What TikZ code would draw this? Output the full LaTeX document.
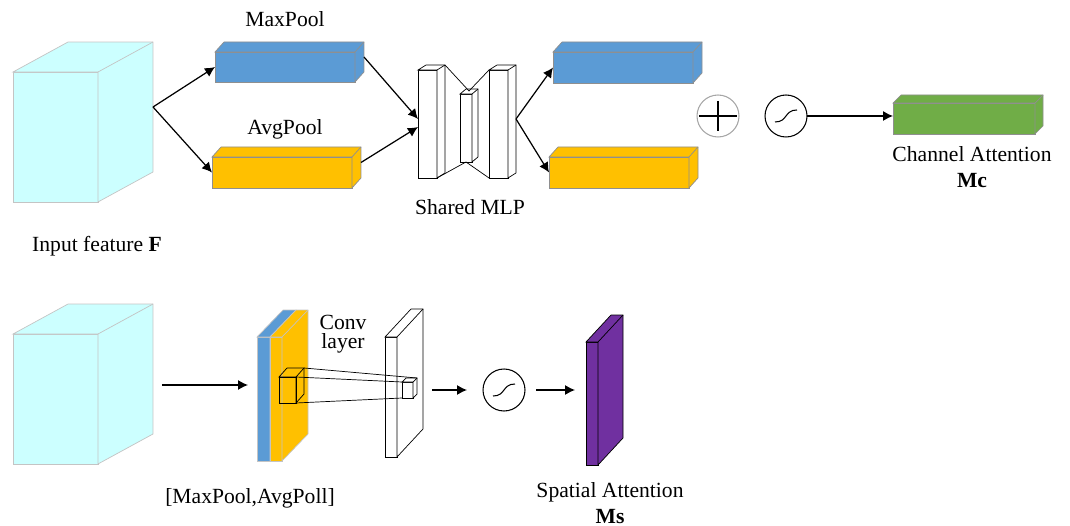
\documentclass[tikz,border=0pt]{standalone}
\usepackage{fontspec}
\setmainfont{Liberation Serif}
\usetikzlibrary{arrows.meta}
\definecolor{cubecyan}{HTML}{CCFFFF}
\definecolor{poolblue}{HTML}{5B9BD5}
\definecolor{poolgold}{HTML}{FFC000}
\definecolor{attgreen}{HTML}{70AD47}
\definecolor{attpurple}{HTML}{7030A0}
\definecolor{edgegray}{HTML}{8F8F8F}
\definecolor{lightedge}{HTML}{C4C4C4}
\tikzstyle{prism} = [rectangle,draw,inner sep=0pt,outer sep=0pt]
\tikzstyle{op} = [circle,draw,line width=0.6pt,minimum size=0.84cm,inner sep=0pt,outer sep=0pt]
\tikzstyle{flow} = [-{Latex[length=0.2cm,width=0.2cm]},line width=0.7pt]
\tikzstyle{lbl} = [inner sep=0pt,font=\fontsize{12.3}{14}\selectfont]
% top and side faces of a box whose front face is node #1
\newcommand{\boxsides}[5]{%
  \filldraw[fill=#4,draw=#5] (#1.north west) -- ([shift={(#2,#3)}]#1.north west)
    -- ([shift={(#2,#3)}]#1.north east) -- ([shift={(#2,#3)}]#1.south east)
    -- (#1.south east) -- (#1.north east) -- cycle;
  \draw[#5] (#1.north east) -- ([shift={(#2,#3)}]#1.north east);}
% sigmoid curve inside node #1
\newcommand{\sigmacurve}[1]{%
  \draw[line width=0.6pt] ([shift={(-11,6)}]#1.center) .. controls ([shift={(2,6)}]#1.center) and ([shift={(-2,-6)}]#1.center) .. ([shift={(11,-6)}]#1.center);}

\begin{document}
\begin{tikzpicture}[x=0.02cm,y=-0.02cm]
		\useasboundingbox (0,0) rectangle (1070,526);

		% channel attention
		\node [prism,fill=cubecyan,draw=lightedge,minimum width=1.7cm,minimum height=2.6cm](inA) at (55.5,137) {};
		\boxsides{inA}{55}{-30}{cubecyan}{lightedge}
		\coordinate (inA-out) at ([shift={(55,-30)}]inA.east);

		\node [prism,fill=poolblue,draw=edgegray,minimum width=2.8cm,minimum height=0.6cm](maxA) at (285,67) {};
		\boxsides{maxA}{9}{-10}{poolblue}{edgegray}
		\node [prism,fill=poolgold,draw=edgegray,minimum width=2.8cm,minimum height=0.62cm](avgA) at (282,172.5) {};
		\boxsides{avgA}{9}{-10}{poolgold}{edgegray}

		\node [prism,fill=white,minimum width=0.38cm,minimum height=2.16cm](mlp1) at (427.5,124) {};
		\boxsides{mlp1}{8}{-5}{white}{black}
		\node [prism,fill=white,minimum width=0.24cm,minimum height=1.36cm](mlp2) at (466,128) {};
		\boxsides{mlp2}{6}{-5}{white}{black}
		\node [prism,fill=white,minimum width=0.38cm,minimum height=2.16cm](mlp3) at (498.5,124) {};
		\boxsides{mlp3}{8}{-5}{white}{black}
		\draw ([shift={(8,-5)}]mlp1.north east) -- ([shift={(3,-3)}]mlp2.north) -- (mlp3.north west);
		\draw (mlp1.south east) -- (mlp2.south) -- (mlp3.south west);

		\node [prism,fill=poolblue,draw=edgegray,minimum width=2.8cm,minimum height=0.62cm](maxB) at (623,67.5) {};
		\boxsides{maxB}{9}{-10}{poolblue}{edgegray}
		\node [prism,fill=poolgold,draw=edgegray,minimum width=2.8cm,minimum height=0.62cm](avgB) at (619,172.5) {};
		\boxsides{avgB}{9}{-10}{poolgold}{edgegray}

		\node [op,draw=gray!70](addop) at (718,116) {};
		\draw[line width=0.6pt] ([shift={(-19,0)}]addop.center) -- ([shift={(19,0)}]addop.center);
		\draw[line width=0.6pt] ([shift={(0,-15)}]addop.center) -- ([shift={(0,15)}]addop.center);
		\node [op](sigA) at (786,116) {};
		\sigmacurve{sigA}

		\node [prism,fill=attgreen,draw=edgegray,minimum width=2.84cm,minimum height=0.62cm](chA) at (964,118.5) {};
		\boxsides{chA}{8}{-8}{attgreen}{edgegray}

		\draw[flow](inA-out) -- (maxA.west);
		\draw[flow](inA-out) -- (avgA.west);
		\draw[flow]([shift={(9,-10)}]maxA.east) -- ([shift={(0,-5)}]mlp1.west);
		\draw[flow]([shift={(9,-10)}]avgA.east) -- ([shift={(0,3)}]mlp1.west);
		\draw[flow]([shift={(8,-5)}]mlp3.east) -- (maxB.west);
		\draw[flow]([shift={(8,-5)}]mlp3.east) -- (avgB.west);
		\draw[flow](sigA.east) -- (sigA.east -| chA.west);

		\node [lbl,anchor=base](maxlbl) at (285,27) {MaxPool};
		\node [lbl,anchor=base](avglbl) at (285,135) {AvgPool};
		\node [lbl,anchor=base](mlplbl) at (470,215) {Shared MLP};
		\node [lbl,anchor=base](chlbl) at (972,162) {Channel Attention};
		\node [lbl,anchor=base](mclbl) at (972,188) {\textbf{Mc}};
		\node [lbl,anchor=base](inlbl) at (97,252) {Input feature \textbf{F}};

		% spatial attention
		\node [prism,fill=cubecyan,draw=lightedge,minimum width=1.7cm,minimum height=2.6cm](inB) at (55.5,399) {};
		\boxsides{inB}{55}{-30}{cubecyan}{lightedge}
		\coordinate (inB-out) at ([shift={(64,-14)}]inB.east);

		\node [prism,fill=poolblue,draw=lightedge,minimum width=0.26cm,minimum height=2.48cm](catb) at (263.5,399) {};
		\boxsides{catb}{26}{-27}{poolblue}{lightedge}
		\node [prism,fill=poolgold,draw=lightedge,minimum width=0.24cm,minimum height=2.48cm](caty) at (276,399) {};
		\boxsides{caty}{26}{-27}{poolgold}{lightedge}
		\coordinate (cat-in) at ([shift={(-9,-14)}]catb.west);

		\node [prism,minimum width=0.34cm,minimum height=0.52cm](kbig) at (287.5,390) {};
		\boxsides{kbig}{8}{-9}{none}{black}

		\node [prism,fill=white,minimum width=0.24cm,minimum height=2.4cm](convB) at (391,397) {};
		\boxsides{convB}{26}{-28}{white}{black}
		\coordinate (convB-out) at ([shift={(26,-7)}]convB.east);
		\node [prism,fill=white,minimum width=0.22cm,minimum height=0.32cm](ksmall) at (407.5,390) {};
		\boxsides{ksmall}{4}{-4}{white}{black}
		\draw ([shift={(8,-9)}]kbig.north east) -- ([shift={(4,-4)}]ksmall.north east);
		\draw (kbig.north east) -- (ksmall.north west);
		\draw (kbig.south east) -- (ksmall.south west);

		\node [op](sigB) at (504,390) {};
		\sigmacurve{sigB}

		\node [prism,fill=attpurple,minimum width=0.24cm,minimum height=2.46cm](spA) at (592,403.5) {};
		\boxsides{spA}{25}{-27}{attpurple}{black}

		\draw[flow](inB-out) -- (cat-in);
		\draw[flow,shorten <=0.18cm,shorten >=0.32cm](convB-out) -- (sigB.west);
		\draw[flow,shorten <=0.22cm,shorten >=0.22cm](sigB.east) -- (sigB.east -| spA.west);

		\node [lbl,anchor=north,align=center,font=\fontsize{12.3}{10.8}\selectfont](convlbl) at (343,315) {Conv\\layer};
		\node [lbl,anchor=base](catlbl) at (250,503) {[MaxPool,AvgPoll]};
		\node [lbl,anchor=base](salbl) at (610,497) {Spatial Attention};
		\node [lbl,anchor=base](mslbl) at (610,523) {\textbf{Ms}};
\end{tikzpicture}
\end{document}
